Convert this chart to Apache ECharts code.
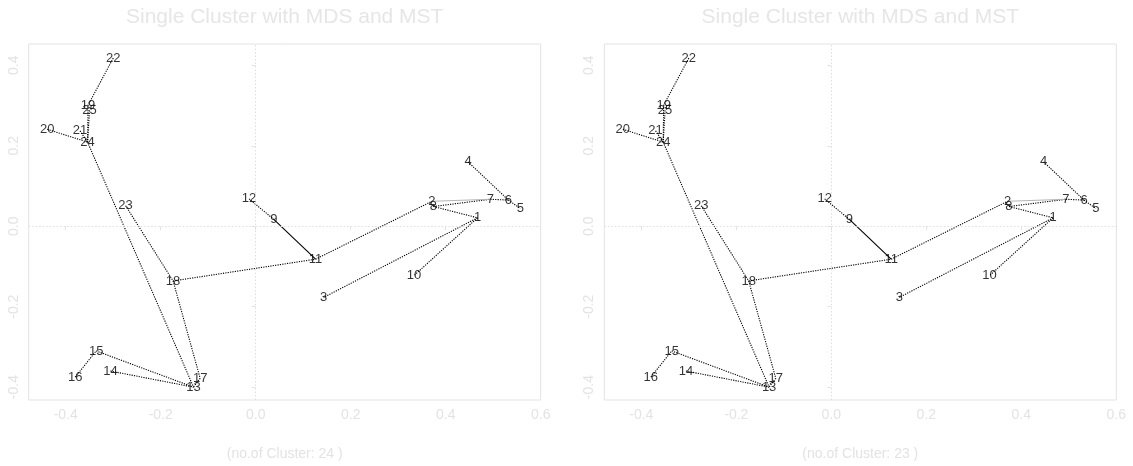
<!DOCTYPE html>
<html>
<head>
<meta charset="utf-8">
<script src="https://cdn.jsdelivr.net/npm/echarts@6/dist/echarts.min.js"></script>
<style>
html,body{margin:0;padding:0;background:#fff;}
#chart{width:1133px;height:466px;}
</style>
</head>
<body>
<div id="chart"></div>
<script>
// ---- data ----
var pointIds = [1,2,3,4,5,6,7,8,9,10,11,12,13,14,15,16,17,18,19,20,21,22,23,24,25];
var xValues = [0.467,0.371,0.143,0.447,0.557,0.532,0.494,0.374,0.038,0.333,0.126,-0.014,-0.131,-0.306,-0.336,-0.380,-0.117,-0.174,-0.353,-0.439,-0.370,-0.300,-0.274,-0.354,-0.350];
var yValues = [0.021,0.062,-0.177,0.160,0.044,0.065,0.067,0.049,0.017,-0.123,-0.082,0.068,-0.400,-0.360,-0.310,-0.375,-0.378,-0.136,0.301,0.241,0.237,0.418,0.051,0.209,0.288];
var dottedEdges = [[22,19],[19,24],[25,24],[20,24],[21,24],[24,13],[23,18],[18,17],[17,13],[15,13],[14,13],[16,15],[18,11],[12,9],[11,2],[8,7],[8,1],[7,6],[6,5],[4,6],[1,3],[1,10]];
var solidEdges = [[9,11]];
var grayEdges = [[2,7]];
var xTicks = [-0.4,-0.2,0.0,0.2,0.4,0.6];
var yTicks = [-0.4,-0.2,0.0,0.2,0.4];
var panelTitles = ['Single Cluster with MDS and MST','Single Cluster with MDS and MST'];
var clusterLabels = ['(no.of Cluster: 24 )','(no.of Cluster: 23 )'];

// ---- build ----
var light = '#e3e3e3';
var gridLefts = [28.7, 604.3];
var gridTop = 44, gridW = 512, gridH = 361;
function pt(id){ var i = pointIds.indexOf(id); return [xValues[i], yValues[i]]; }
function edgeData(list, style){
  return list.map(function(e){ return {coords:[pt(e[0]), pt(e[1])], lineStyle: style}; });
}
var grids=[], xAxes=[], yAxes=[], series=[], graphics=[];
for (var p=0;p<2;p++){
  grids.push({left:gridLefts[p], top:gridTop, width:gridW, height:gridH, show:true, borderColor:light, borderWidth:1, backgroundColor:'transparent'});
  xAxes.push({gridIndex:p, type:'value', min:-0.478, max:0.6,
    axisLine:{show:false}, splitLine:{show:false},
    axisTick:{show:true, length:4, lineStyle:{color:light}, customValues:xTicks},
    axisLabel:{color:light, fontSize:14, fontFamily:'Liberation Sans, Arial', margin:8, customValues:xTicks,
      formatter:function(v){ return v.toFixed(1); }},
    name: clusterLabels[p], nameLocation:'middle', nameGap:47,
    nameTextStyle:{color:light, fontSize:14, fontFamily:'Liberation Sans, Arial'}
  });
  yAxes.push({gridIndex:p, type:'value', min:-0.432, max:0.453,
    axisLine:{show:false}, splitLine:{show:false},
    axisTick:{show:true, length:4, lineStyle:{color:light}, customValues:yTicks},
    axisLabel:{color:light, fontSize:14, fontFamily:'Liberation Sans, Arial', margin:8, rotate:90, customValues:yTicks,
      formatter:function(v){ return v.toFixed(1); }}
  });
  var ld = [].concat(
    edgeData(dottedEdges, {color:'#000', width:1.1, type:[1.2,1.2]}),
    edgeData(solidEdges, {color:'#000', width:1.1, type:'solid'}),
    edgeData(grayEdges, {color:'#b5b5b5', width:1, type:'solid'})
  );
  series.push({type:'lines', coordinateSystem:'cartesian2d', xAxisIndex:p, yAxisIndex:p, silent:true, polyline:false,
    data: ld, lineStyle:{opacity:1}, z:2});
  series.push({type:'scatter', xAxisIndex:p, yAxisIndex:p, silent:true, symbol:'circle', symbolSize:1,
    itemStyle:{color:'rgba(0,0,0,0)'},
    data: pointIds.map(function(id,i){ return {name:String(id), value:[xValues[i], yValues[i]]}; }),
    label:{show:true, position:'inside', formatter:'{b}', color:'#000', fontSize:13, fontFamily:'Liberation Sans, Arial'},
    markLine:{silent:true, symbol:'none', label:{show:false},
      lineStyle:{color:'#dedede', type:[1.5,2], width:1},
      data:[{xAxis:0},{yAxis:0}]},
    z:3});
  graphics.push({type:'text', x: gridLefts[p]+gridW/2, y:17,
    style:{text:panelTitles[p], fill:'#e6e6e6', font:'21px "Liberation Sans", Arial', textAlign:'center', textVerticalAlign:'middle'}});
}
var chart = echarts.init(document.getElementById('chart'), null, {renderer:'canvas'});
chart.setOption({
  animation:false,
  backgroundColor:'#ffffff',
  grid:grids, xAxis:xAxes, yAxis:yAxes, series:series, graphic:graphics
});
</script>
</body>
</html>
